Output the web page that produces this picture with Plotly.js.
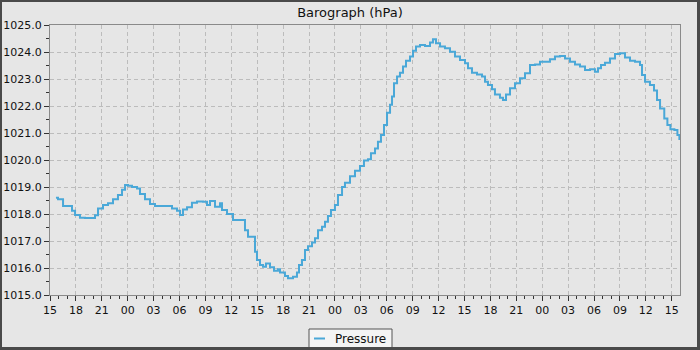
<!DOCTYPE html>
<html>
<head>
<meta charset="utf-8">
<script src="https://cdn.plot.ly/plotly-3.0.1.min.js"></script>
<style>
  html, body { margin:0; padding:0; background:#e6e6e6; }
  #wrap { position:relative; width:700px; height:350px; }
  #chart { width:700px; height:350px; }
  #frame { position:absolute; left:0; top:0; width:700px; height:350px; box-sizing:border-box;
           border-style:solid; border-color:#4a4a4a; border-width:2px 3px 3px 2px; pointer-events:none; }
</style>
</head>
<body>
<div id="wrap"><div id="chart"></div><div id="frame"></div></div>
<script>
// Hours since the first tick (15:00 on day one)
const hoursSinceStart = [0.69,0.93,1.51,2.08,2.55,2.90,3.47,4.05,4.86,5.21,5.56,6.14,6.72,7.30,7.87,8.34,8.69,9.03,9.50,10.08,10.42,11.00,11.58,12.16,12.74,13.55,14.13,14.71,15.06,15.40,15.87,16.44,17.02,17.72,18.18,18.53,19.11,19.69,19.92,20.50,21.19,22.00,22.58,22.93,23.74,23.97,24.32,24.67,25.01,25.48,25.94,26.40,26.64,27.21,27.56,28.14,28.60,28.84,29.18,29.53,29.88,30.34,30.69,31.04,31.50,31.85,32.19,32.54,33.00,33.35,33.82,34.16,34.74,35.32,35.90,36.36,36.83,37.17,37.64,37.98,38.33,38.68,39.03,39.38,39.61,39.84,40.19,40.53,40.88,41.23,41.69,42.04,42.39,42.85,43.43,44.01,44.35,44.70,45.17,45.74,46.32,46.90,47.48,48.06,48.41,48.87,49.45,50.03,50.38,50.72,51.19,51.53,52.11,52.46,52.81,53.27,53.85,54.43,55.01,55.59,56.17,56.75,57.32,57.90,58.48,59.06,59.64,60.22,60.80,61.38,61.96,62.54,63.11,63.46,63.81,64.27,64.85,65.43,66.01,66.59,67.17,67.75,68.33,68.56,68.91,69.48,69.95,70.30,70.65,71.14,71.50,71.85,72.31,72.66,72.89];
const pressure = [1018.60,1018.55,1018.30,1018.30,1018.12,1017.96,1017.86,1017.85,1017.85,1017.95,1018.20,1018.33,1018.40,1018.55,1018.70,1018.90,1019.07,1019.05,1019.00,1018.94,1018.74,1018.55,1018.37,1018.30,1018.30,1018.30,1018.20,1018.12,1017.96,1018.17,1018.25,1018.42,1018.46,1018.45,1018.33,1018.48,1018.27,1018.40,1018.15,1018.00,1017.78,1017.78,1017.40,1017.16,1016.60,1016.30,1016.11,1016.05,1016.17,1016.03,1015.90,1015.95,1015.83,1015.70,1015.62,1015.68,1015.83,1016.11,1016.30,1016.67,1016.81,1016.94,1017.10,1017.40,1017.53,1017.71,1017.93,1018.15,1018.33,1018.70,1019.00,1019.16,1019.40,1019.60,1019.78,1019.98,1020.03,1020.25,1020.43,1020.68,1020.93,1021.30,1021.75,1022.05,1022.35,1022.84,1023.09,1023.23,1023.46,1023.68,1023.83,1024.05,1024.20,1024.26,1024.22,1024.35,1024.47,1024.32,1024.20,1024.14,1024.01,1023.83,1023.70,1023.58,1023.40,1023.23,1023.17,1023.09,1022.90,1022.78,1022.62,1022.43,1022.31,1022.22,1022.43,1022.66,1022.84,1023.03,1023.21,1023.52,1023.54,1023.64,1023.64,1023.73,1023.83,1023.85,1023.76,1023.64,1023.54,1023.46,1023.33,1023.36,1023.27,1023.40,1023.52,1023.60,1023.76,1023.93,1023.95,1023.80,1023.68,1023.64,1023.52,1023.15,1022.90,1022.78,1022.57,1022.22,1021.91,1021.54,1021.30,1021.14,1021.11,1020.93,1020.74];
const startTime = '2024-03-01 15:00:00';
const rangeHours = 72.96;
const seriesName = 'Pressure';
const chartTitle = 'Barograph (hPa)';

function pad(n){ return String(n).padStart(2,'0'); }
function fmt(ms){
  const d = new Date(ms);
  return d.getUTCFullYear()+'-'+pad(d.getUTCMonth()+1)+'-'+pad(d.getUTCDate())+' '+pad(d.getUTCHours())+':'+pad(d.getUTCMinutes())+':'+pad(d.getUTCSeconds());
}
const t0 = Date.UTC(2024,2,1,15,0,0);
const times = hoursSinceStart.map(h => fmt(t0 + Math.round(h*3600000)));

const font = 'DejaVu Sans, sans-serif';
const lineColor = '#4aa8d8';
const trace = {
  x: times, y: pressure, type:'scatter', mode:'lines', name: seriesName, showlegend:false,
  line: {color:lineColor, width:2, shape:'hv'}
};

// Legend box geometry in pixels -> paper coordinates (plot area: x 50..680, y 25..295)
const L = 50, R = 680, T = 25, B = 295;
const px = v => (v - L) / (R - L);
const py = v => (B - v) / (B - T);

const layout = {
  width:700, height:350,
  paper_bgcolor:'#e6e6e6', plot_bgcolor:'#e6e6e6',
  margin:{l:50, r:20, t:25, b:55},
  font:{family:font, size:11, color:'#111'},
  title:{text:chartTitle, font:{family:font, size:13, color:'#111'}, xref:'container', x:0.5, xanchor:'center', yref:'container', y:1-12/350, yanchor:'middle'},
  showlegend:false,
  shapes:[
    {type:'rect', xref:'paper', yref:'paper', x0:px(309), x1:px(392), y0:py(329), y1:py(349),
     fillcolor:'#f4f4f4', line:{color:'#555', width:1}, layer:'above'},
    {type:'line', xref:'paper', yref:'paper', x0:px(314), x1:px(325), y0:py(338.5), y1:py(338.5),
     line:{color:lineColor, width:2}, layer:'above'}
  ],
  annotations:[
    {text:seriesName, xref:'paper', yref:'paper', x:px(333), y:py(338.5), xanchor:'left', yanchor:'middle',
     showarrow:false, font:{family:font, size:12, color:'#111'}}
  ],
  xaxis:{type:'date', range:[fmt(t0), fmt(t0 + rangeHours*3600000)],
         tick0:startTime, dtick:3*3600000, tickformat:'%H',
         ticks:'outside', ticklen:5, tickcolor:'#333', tickwidth:1,
         showline:true, linecolor:'#8a8a8a', linewidth:1, mirror:true,
         showgrid:true, gridcolor:'#bcbcbc', griddash:'4px,3px', gridwidth:1,
         zeroline:false,
         minor:{dtick:3600000, tick0:startTime, ticks:'outside', ticklen:3, tickcolor:'#333', showgrid:false},
         tickfont:{family:font, size:11, color:'#111'}},
  yaxis:{range:[1015,1025], dtick:1, tick0:1015, tickformat:'.1f',
         ticks:'outside', ticklen:5, tickcolor:'#333', tickwidth:1,
         showline:true, linecolor:'#8a8a8a', linewidth:1, mirror:true,
         showgrid:true, gridcolor:'#bcbcbc', griddash:'4px,3px', gridwidth:1,
         zeroline:false,
         minor:{dtick:0.5, ticks:'outside', ticklen:3, tickcolor:'#333', showgrid:false},
         tickfont:{family:font, size:11, color:'#111'}}
};
Plotly.newPlot('chart', [trace], layout, {displayModeBar:false, staticPlot:true});
</script>
</body>
</html>
